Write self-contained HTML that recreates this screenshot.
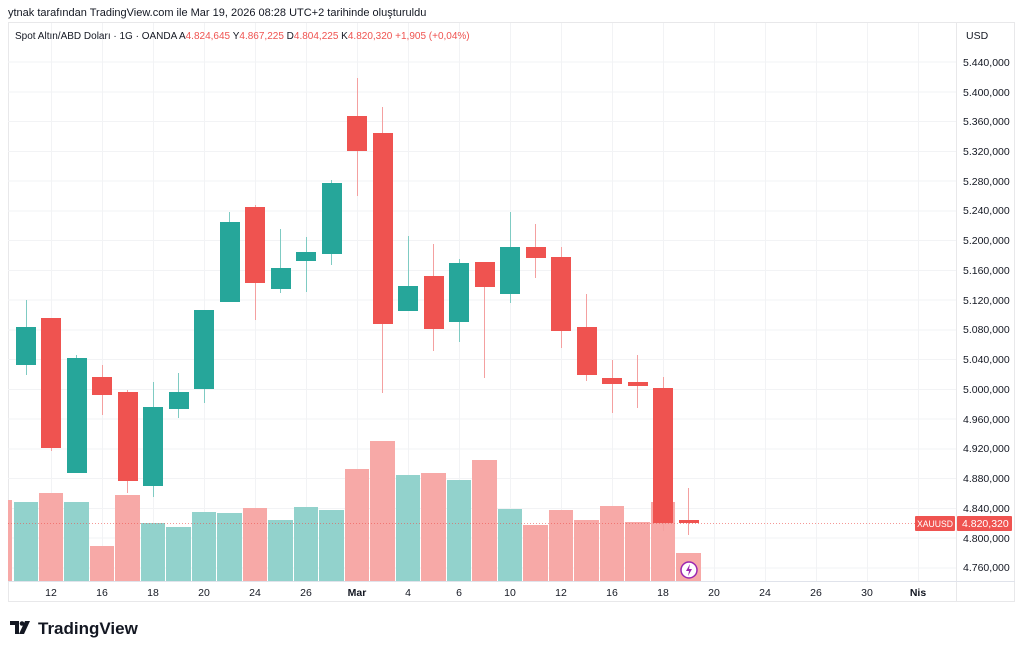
<!DOCTYPE html>
<html><head><meta charset="utf-8"><style>
body{margin:0;background:#fff;width:1024px;height:653px;overflow:hidden;font-family:"Liberation Sans",sans-serif}
svg text{font-family:"Liberation Sans",sans-serif}
</style></head><body>
<svg width="1024" height="653" xmlns="http://www.w3.org/2000/svg">
<rect width="1024" height="653" fill="#fff"/>
<text x="8" y="16" font-size="11" fill="#131722">ytnak tarafından TradingView.com ile Mar 19, 2026 08:28 UTC+2 tarihinde oluşturuldu</text>
<!-- frame -->
<rect x="8.5" y="22.5" width="1006" height="579" fill="none" stroke="#e8e8ea"/>
<line x1="956.5" y1="22" x2="956.5" y2="602" stroke="#e8e8ea"/>
<line x1="8" y1="581.5" x2="1015" y2="581.5" stroke="#e0e3eb"/>
<!-- grid -->
<g stroke="#f2f3f5" stroke-width="1">
<line x1="51.5" y1="23" x2="51.5" y2="581"/><line x1="102.5" y1="23" x2="102.5" y2="581"/><line x1="153.5" y1="23" x2="153.5" y2="581"/><line x1="204.5" y1="23" x2="204.5" y2="581"/><line x1="255.5" y1="23" x2="255.5" y2="581"/><line x1="306.5" y1="23" x2="306.5" y2="581"/><line x1="357.5" y1="23" x2="357.5" y2="581"/><line x1="408.5" y1="23" x2="408.5" y2="581"/><line x1="459.5" y1="23" x2="459.5" y2="581"/><line x1="510.5" y1="23" x2="510.5" y2="581"/><line x1="561.5" y1="23" x2="561.5" y2="581"/><line x1="612.5" y1="23" x2="612.5" y2="581"/><line x1="663.5" y1="23" x2="663.5" y2="581"/><line x1="714.5" y1="23" x2="714.5" y2="581"/><line x1="765.5" y1="23" x2="765.5" y2="581"/><line x1="816.5" y1="23" x2="816.5" y2="581"/><line x1="867.5" y1="23" x2="867.5" y2="581"/><line x1="918.5" y1="23" x2="918.5" y2="581"/>
<line x1="8" y1="62" x2="956" y2="62"/><line x1="8" y1="92" x2="956" y2="92"/><line x1="8" y1="121.5" x2="956" y2="121.5"/><line x1="8" y1="151.5" x2="956" y2="151.5"/><line x1="8" y1="181" x2="956" y2="181"/><line x1="8" y1="211" x2="956" y2="211"/><line x1="8" y1="240.5" x2="956" y2="240.5"/><line x1="8" y1="270.5" x2="956" y2="270.5"/><line x1="8" y1="300" x2="956" y2="300"/><line x1="8" y1="330" x2="956" y2="330"/><line x1="8" y1="359.5" x2="956" y2="359.5"/><line x1="8" y1="389.5" x2="956" y2="389.5"/><line x1="8" y1="419" x2="956" y2="419"/><line x1="8" y1="449" x2="956" y2="449"/><line x1="8" y1="478.5" x2="956" y2="478.5"/><line x1="8" y1="508.5" x2="956" y2="508.5"/><line x1="8" y1="538" x2="956" y2="538"/><line x1="8" y1="568" x2="956" y2="568"/>
</g>
<!-- header legend -->
<text x="15" y="39" font-size="10" fill="#131722">Spot Altın/ABD Doları · 1G · OANDA  A<tspan fill="#ef5350">4.824,645</tspan>  Y<tspan fill="#ef5350">4.867,225</tspan>  D<tspan fill="#ef5350">4.804,225</tspan>  K<tspan fill="#ef5350">4.820,320</tspan><tspan fill="#ef5350"> +1,905 (+0,04%)</tspan></text>
<!-- volume -->
<g>
<rect x="8" y="500" width="4" height="81" fill="#f7a9a7"/>
<rect x="14" y="502" width="24" height="79" fill="#92d2cc"/>
<rect x="39" y="493" width="24" height="88" fill="#f7a9a7"/>
<rect x="64" y="502" width="25" height="79" fill="#92d2cc"/>
<rect x="90" y="546" width="24" height="35" fill="#f7a9a7"/>
<rect x="115" y="495" width="25" height="86" fill="#f7a9a7"/>
<rect x="141" y="523" width="24" height="58" fill="#92d2cc"/>
<rect x="166" y="527" width="25" height="54" fill="#92d2cc"/>
<rect x="192" y="512" width="24" height="69" fill="#92d2cc"/>
<rect x="217" y="513" width="25" height="68" fill="#92d2cc"/>
<rect x="243" y="508" width="24" height="73" fill="#f7a9a7"/>
<rect x="268" y="520" width="25" height="61" fill="#92d2cc"/>
<rect x="294" y="507" width="24" height="74" fill="#92d2cc"/>
<rect x="319" y="510" width="25" height="71" fill="#92d2cc"/>
<rect x="345" y="469" width="24" height="112" fill="#f7a9a7"/>
<rect x="370" y="441" width="25" height="140" fill="#f7a9a7"/>
<rect x="396" y="475" width="24" height="106" fill="#92d2cc"/>
<rect x="421" y="473" width="25" height="108" fill="#f7a9a7"/>
<rect x="447" y="480" width="24" height="101" fill="#92d2cc"/>
<rect x="472" y="460" width="25" height="121" fill="#f7a9a7"/>
<rect x="498" y="509" width="24" height="72" fill="#92d2cc"/>
<rect x="523" y="525" width="25" height="56" fill="#f7a9a7"/>
<rect x="549" y="510" width="24" height="71" fill="#f7a9a7"/>
<rect x="574" y="520" width="25" height="61" fill="#f7a9a7"/>
<rect x="600" y="506" width="24" height="75" fill="#f7a9a7"/>
<rect x="625" y="522" width="25" height="59" fill="#f7a9a7"/>
<rect x="651" y="502" width="24" height="79" fill="#f7a9a7"/>
<rect x="676" y="553" width="25" height="28" fill="#f7a9a7"/>
</g>
<!-- last price line -->
<line x1="8" y1="523.5" x2="956" y2="523.5" stroke="#ef5350" stroke-dasharray="1,2" stroke-width="1" opacity="0.6"/>
<!-- wicks -->
<g stroke-width="1">
<line x1="26.5" y1="300" x2="26.5" y2="375" stroke="#7fcbc3"/>
<line x1="51.5" y1="318" x2="51.5" y2="451" stroke="#f4a0a0"/>
<line x1="76.5" y1="355" x2="76.5" y2="473" stroke="#7fcbc3"/>
<line x1="102.5" y1="365" x2="102.5" y2="415" stroke="#f4a0a0"/>
<line x1="127.5" y1="390" x2="127.5" y2="493" stroke="#f4a0a0"/>
<line x1="153.5" y1="382" x2="153.5" y2="497" stroke="#7fcbc3"/>
<line x1="178.5" y1="373" x2="178.5" y2="418" stroke="#7fcbc3"/>
<line x1="204.5" y1="310" x2="204.5" y2="403" stroke="#7fcbc3"/>
<line x1="229.5" y1="212" x2="229.5" y2="302" stroke="#7fcbc3"/>
<line x1="255.5" y1="205" x2="255.5" y2="320" stroke="#f4a0a0"/>
<line x1="280.5" y1="229" x2="280.5" y2="293" stroke="#7fcbc3"/>
<line x1="306.5" y1="237" x2="306.5" y2="292" stroke="#7fcbc3"/>
<line x1="331.5" y1="180" x2="331.5" y2="265" stroke="#7fcbc3"/>
<line x1="357.5" y1="78" x2="357.5" y2="196" stroke="#f4a0a0"/>
<line x1="382.5" y1="107" x2="382.5" y2="393" stroke="#f4a0a0"/>
<line x1="408.5" y1="236" x2="408.5" y2="311" stroke="#7fcbc3"/>
<line x1="433.5" y1="244" x2="433.5" y2="351" stroke="#f4a0a0"/>
<line x1="459.5" y1="259" x2="459.5" y2="342" stroke="#7fcbc3"/>
<line x1="484.5" y1="262" x2="484.5" y2="378" stroke="#f4a0a0"/>
<line x1="510.5" y1="212" x2="510.5" y2="303" stroke="#7fcbc3"/>
<line x1="535.5" y1="224" x2="535.5" y2="278" stroke="#f4a0a0"/>
<line x1="561.5" y1="247" x2="561.5" y2="348" stroke="#f4a0a0"/>
<line x1="586.5" y1="294" x2="586.5" y2="381" stroke="#f4a0a0"/>
<line x1="612.5" y1="360" x2="612.5" y2="413" stroke="#f4a0a0"/>
<line x1="637.5" y1="355" x2="637.5" y2="408" stroke="#f4a0a0"/>
<line x1="663.5" y1="377" x2="663.5" y2="531" stroke="#f4a0a0"/>
<line x1="688.5" y1="488" x2="688.5" y2="535" stroke="#f4a0a0"/>
</g>
<!-- bodies -->
<g>
<rect x="16" y="327" width="20" height="38" fill="#26a69a"/>
<rect x="41" y="318" width="20" height="130" fill="#ef5350"/>
<rect x="67" y="358" width="20" height="115" fill="#26a69a"/>
<rect x="92" y="377" width="20" height="18" fill="#ef5350"/>
<rect x="118" y="392" width="20" height="89" fill="#ef5350"/>
<rect x="143" y="407" width="20" height="79" fill="#26a69a"/>
<rect x="169" y="392" width="20" height="17" fill="#26a69a"/>
<rect x="194" y="310" width="20" height="79" fill="#26a69a"/>
<rect x="220" y="222" width="20" height="80" fill="#26a69a"/>
<rect x="245" y="207" width="20" height="76" fill="#ef5350"/>
<rect x="271" y="268" width="20" height="21" fill="#26a69a"/>
<rect x="296" y="252" width="20" height="9" fill="#26a69a"/>
<rect x="322" y="183" width="20" height="71" fill="#26a69a"/>
<rect x="347" y="116" width="20" height="35" fill="#ef5350"/>
<rect x="373" y="133" width="20" height="191" fill="#ef5350"/>
<rect x="398" y="286" width="20" height="25" fill="#26a69a"/>
<rect x="424" y="276" width="20" height="53" fill="#ef5350"/>
<rect x="449" y="263" width="20" height="59" fill="#26a69a"/>
<rect x="475" y="262" width="20" height="25" fill="#ef5350"/>
<rect x="500" y="247" width="20" height="47" fill="#26a69a"/>
<rect x="526" y="247" width="20" height="11" fill="#ef5350"/>
<rect x="551" y="257" width="20" height="74" fill="#ef5350"/>
<rect x="577" y="327" width="20" height="48" fill="#ef5350"/>
<rect x="602" y="378" width="20" height="6" fill="#ef5350"/>
<rect x="628" y="382" width="20" height="4" fill="#ef5350"/>
<rect x="653" y="388" width="20" height="135" fill="#ef5350"/>
<rect x="679" y="520" width="20" height="3" fill="#ef5350"/>
</g>
<!-- lightning icon -->
<circle cx="689" cy="570" r="8" fill="#fff" stroke="#9c27b0" stroke-width="1.5"/>
<path d="M690 564 L686 571 L689 571 L688 576 L692 569 L689 569 Z" fill="#9c27b0"/>
<!-- right axis -->
<text x="966" y="39" font-size="10.5" fill="#131722">USD</text>
<g font-size="10.5" fill="#131722">
<text x="963" y="66">5.440,000</text><text x="963" y="96">5.400,000</text><text x="963" y="125">5.360,000</text><text x="963" y="155">5.320,000</text><text x="963" y="185">5.280,000</text><text x="963" y="214">5.240,000</text><text x="963" y="244">5.200,000</text><text x="963" y="274">5.160,000</text><text x="963" y="304">5.120,000</text><text x="963" y="333">5.080,000</text><text x="963" y="363">5.040,000</text><text x="963" y="393">5.000,000</text><text x="963" y="423">4.960,000</text><text x="963" y="452">4.920,000</text><text x="963" y="482">4.880,000</text><text x="963" y="512">4.840,000</text><text x="963" y="542">4.800,000</text><text x="963" y="571">4.760,000</text>
</g>
<rect x="915" y="516" width="40" height="15" rx="1" fill="#ef5350"/>
<text x="917" y="527" font-size="9.5" fill="#fff" textLength="36" lengthAdjust="spacingAndGlyphs">XAUUSD</text>
<rect x="957" y="516" width="55" height="15" rx="1" fill="#ef5350"/>
<text x="962" y="527" font-size="10.5" fill="#fff">4.820,320</text>
<!-- bottom axis -->
<g font-size="10.5" fill="#131722" text-anchor="middle">
<text x="51" y="596">12</text><text x="102" y="596">16</text><text x="153" y="596">18</text><text x="204" y="596">20</text><text x="255" y="596">24</text><text x="306" y="596">26</text><text x="357" y="596" font-weight="bold">Mar</text><text x="408" y="596">4</text><text x="459" y="596">6</text><text x="510" y="596">10</text><text x="561" y="596">12</text><text x="612" y="596">16</text><text x="663" y="596">18</text><text x="714" y="596">20</text><text x="765" y="596">24</text><text x="816" y="596">26</text><text x="867" y="596">30</text><text x="918" y="596" font-weight="bold">Nis</text>
</g>
<!-- logo -->
<g fill="#131722">
<path d="M10 621 h9 v13 h-4 v-9 h-5 z"/>
<circle cx="22" cy="623.5" r="2.3"/>
<path d="M25 621 h5 l-6 13 h-5 z"/>
</g>
<text x="38" y="634" font-size="17" fill="#131722" font-weight="bold">TradingView</text>
</svg>
</body></html>
